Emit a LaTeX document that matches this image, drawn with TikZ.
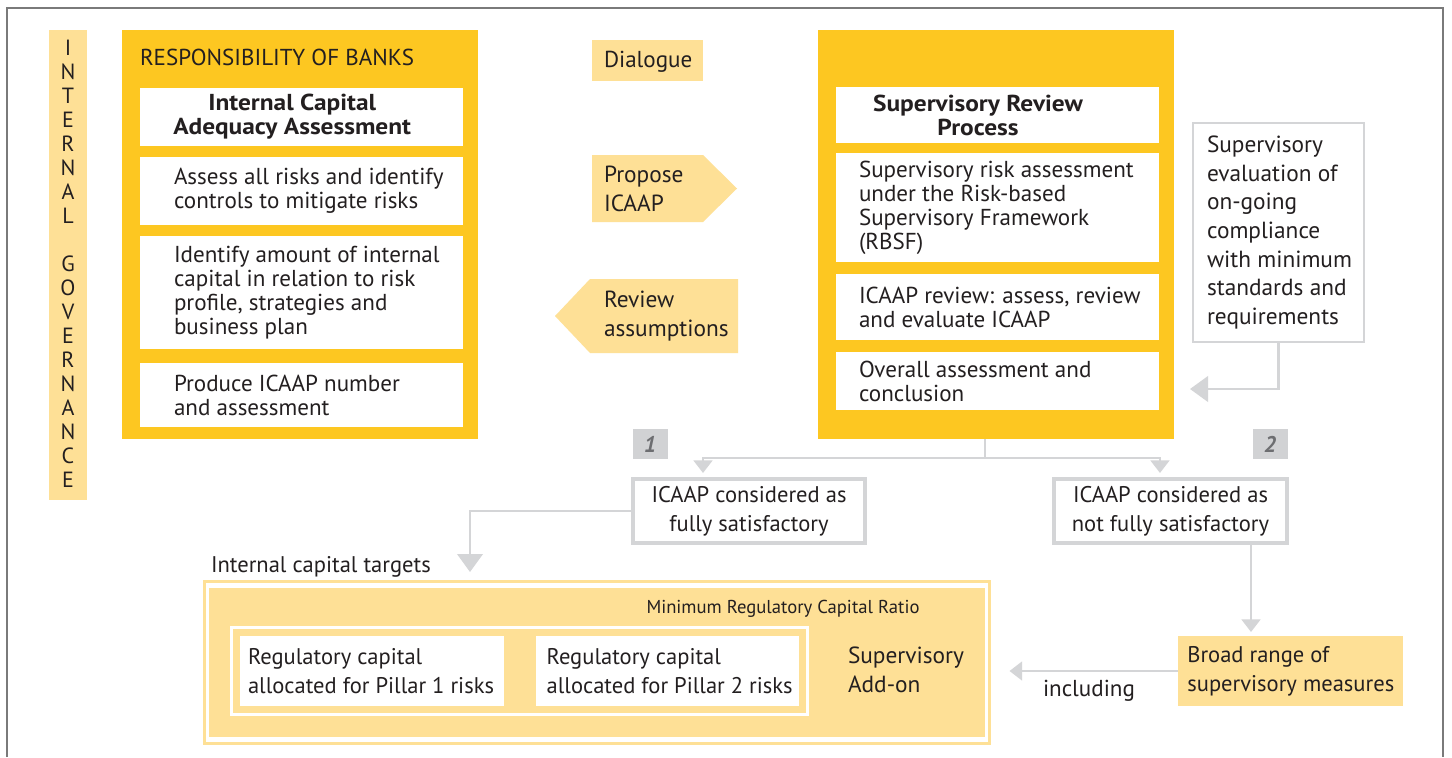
\documentclass[tikz,border=0pt]{standalone}
\usepackage{fontspec}
\setmainfont{PT Sans}
\newfontfamily\condf[FakeStretch=0.995]{PT Sans}
\newfontfamily\smallf{PT Sans}
\newfontfamily\boldf[FakeStretch=1.1]{PT Sans Bold}
\usetikzlibrary{arrows.meta}
\definecolor{ydark}{HTML}{FDC721}
\definecolor{ylight}{HTML}{FEE096}
\definecolor{lgray}{HTML}{D4D5D7}
\definecolor{lblgray}{HTML}{D1D2D4}
\definecolor{tgray}{HTML}{6D6E71}
\definecolor{ink}{HTML}{231F20}
\definecolor{framegray}{HTML}{7A7A7A}
% \rbox{name}{style}{x1}{y1}{x2}{y2}
\newcommand{\rbox}[6]{\node[#2, anchor=north west, minimum width={(#5-#3)*0.75pt}, minimum height={(#6-#4)*0.75pt}] (#1) at (#3,#4) {};}
\begin{document}
\begin{tikzpicture}[x=0.75pt,y=-0.75pt,
  every node/.style={inner sep=0pt,outer sep=0pt,text=ink},
  txt/.style={font=\fontsize{17.3}{18}\selectfont, align=left, anchor=west},
  txtw/.style={font=\fontsize{17.5}{21.9}\selectfont, align=left, anchor=west},
  btxt/.style={font=\boldf\fontsize{17.3}{18}\selectfont, align=center},
  ctxt/.style={font=\condf\fontsize{17}{21.75}\selectfont, align=center},
  ctxtl/.style={font=\condf\fontsize{17}{21.75}\selectfont, align=left, anchor=west},
  dark/.style={fill=ydark},
  light/.style={fill=ylight},
  wbox/.style={fill=white},
  gbox/.style={draw=lgray, line width=3.5pt, fill=white},
  ebox/.style={draw=lgray, line width=2.2pt, fill=white},
  ylframe/.style={draw=ylight, line width=2.2pt},
  wframe/.style={draw=white, line width=2.5pt},
  conn/.style={draw=lgray, line width=2.2pt},
  stip/.style={-{Triangle[width=14pt,length=9.5pt]}},
  btip/.style={-{Triangle[width=19pt,length=13.5pt]}},
  lbl/.style={fill=lblgray, text=tgray, font=\bfseries\itshape\fontsize{17}{18}\selectfont,
              minimum width=26.25pt, minimum height=22.5pt}
]
\useasboundingbox (0,0) rectangle (1452,757);
\fill[white] (0,0) rectangle (1452,757);
% outer frame
\draw[framegray, line width=1.5pt] (7,757) -- (7,8) -- (1443,8) -- (1443,757);

% internal governance bar
\rbox{gov}{light}{49}{30}{87}{500}
\node[font=\fontsize{16.5}{18}\selectfont, align=center] (govt) at (68,264)
  {I\\N\\T\\E\\R\\N\\A\\L\\[18pt]G\\O\\V\\E\\R\\N\\A\\N\\C\\E};

% responsibility of banks
\rbox{lbank}{dark}{122}{30}{478}{439}
\node[txt, anchor=base west] (ltitle) at (140,65) {RESPONSIBILITY OF BANKS};
\rbox{lb1}{wbox}{140}{88}{463}{146}
\node[btxt] (lb1t) at ([xshift=-7pt]lb1.center) {Internal Capital\\Adequacy Assessment};
\rbox{lb2}{wbox}{140}{157}{463}{225}
\node[txt] (lb2t) at ([xshift=25.5pt]lb2.west) {Assess all risks and identify\\controls to mitigate risks};
\rbox{lb3}{wbox}{140}{236}{463}{349}
\node[txt] (lb3t) at ([xshift=25.5pt]lb3.west) {Identify amount of internal\\capital in relation to risk\\profile, strategies and\\business plan};
\rbox{lb4}{wbox}{140}{363}{463}{427}
\node[txt] (lb4t) at ([xshift=25.5pt]lb4.west) {Produce ICAAP number\\and assessment};

% dialogue column
\rbox{dlg}{light}{592}{40}{703}{81}
\node[txt] (dlgt) at ([xshift=9pt,yshift=-1pt]dlg.west) {Dialogue};
\fill[ylight] (592,155) -- (703,155) -- (737,188.5) -- (703,222) -- (592,222) -- cycle;
\node[txtw] (prop) at (604,188.5) {Propose\\ICAAP};
\fill[ylight] (738,279) -- (590,279) -- (555,316) -- (590,353) -- (738,353) -- cycle;
\node[txtw] (rev) at (604,316) {Review\\assumptions};

% supervisory review process
\rbox{rsup}{dark}{818}{30}{1174}{439}
\rbox{rb1}{wbox}{836}{87}{1159}{143}
\node[btxt] (rb1t) at ([xshift=-14.6pt]rb1.center) {Supervisory Review\\Process};
\rbox{rb2}{wbox}{836}{153}{1159}{262}
\node[txt] (rb2t) at ([xshift=17.25pt]rb2.west) {Supervisory risk assessment\\under the Risk-based\\Supervisory Framework\\(RBSF)};
\rbox{rb3}{wbox}{836}{274}{1159}{340}
\node[txt] (rb3t) at ([xshift=17.25pt]rb3.west) {ICAAP review: assess, review\\and evaluate ICAAP};
\rbox{rb4}{wbox}{836}{352}{1159}{410}
\node[txt] (rb4t) at ([xshift=17.25pt]rb4.west) {Overall assessment and\\conclusion};

% supervisory evaluation
\rbox{eval}{ebox}{1193}{123}{1364}{342}
\node[txt, font=\fontsize{17.5}{21.4}\selectfont] (evalt) at ([xshift=10.5pt]eval.west)
  {Supervisory\\evaluation of\\on-going\\compliance\\with minimum\\standards and\\requirements};
\coordinate (evtip) at (1190,389);
\draw[conn,btip] (eval.south) |- (evtip);

% number labels
\node[lbl] (l1) at (650,444) {1};
\node[lbl] (l2) at (1270,444) {2};

% outcome boxes
\rbox{fully}{gbox}{633}{479}{865}{543}
\node[ctxt] (fullyt) at (fully.center) {ICAAP considered as\\fully satisfactory};
\rbox{notfully}{gbox}{1054}{479}{1287}{543}
\node[ctxt] (notfullyt) at (notfully.center) {ICAAP considered as\\not fully satisfactory};

\coordinate (split) at (985,458);
\draw[conn] (rsup.south -| split) -- (split);
\draw[conn,stip] (split) -| ([xshift=-34.5pt,yshift=4.5pt]fully.north);
\draw[conn,stip] (split) -| ([xshift=-7.9pt,yshift=4.5pt]notfully.north);

% internal capital targets
\coordinate (ict) at (470,572);
\draw[conn,btip] (fully.west) -| (ict);
\node[ctxt, anchor=base west] (ictt) at (211,572) {Internal capital targets};

% big box
\rbox{bigo}{ylframe}{204.5}{581.5}{989.5}{743.5}
\rbox{bigf}{light}{209}{588}{985}{737}
\node[font=\smallf\fontsize{14}{16}\selectfont, anchor=base] (mrcr) at (783,613) {Minimum Regulatory Capital Ratio};
\rbox{inf}{wframe}{231.5}{627.5}{807.5}{714.5}
\rbox{p1}{wbox}{240}{636}{504}{706}
\node[ctxtl] (p1t) at ([xshift=6pt]p1.west) {Regulatory capital\\allocated for Pillar 1 risks};
\rbox{p2}{wbox}{536}{636}{799}{706}
\node[ctxtl] (p2t) at ([xshift=8pt]p2.west) {Regulatory capital\\allocated for Pillar 2 risks};
\node[txtw] (addon) at (848,670) {Supervisory\\Add-on};

% broad range
\rbox{broad}{light}{1178}{636}{1403}{706}
\node[ctxtl] (broadt) at ([xshift=7pt]broad.west) {Broad range of\\supervisory measures};
\coordinate (nf) at (1251,0);
\draw[conn,stip] (notfully.south -| nf) -- ([yshift=3pt]broad.north -| nf);
\draw[conn,stip] (broad.west) -- ([xshift=15pt]bigo.east |- broad.west);
\node[txt, anchor=base west] (incl) at (1043,696) {including};
\end{tikzpicture}
\end{document}
